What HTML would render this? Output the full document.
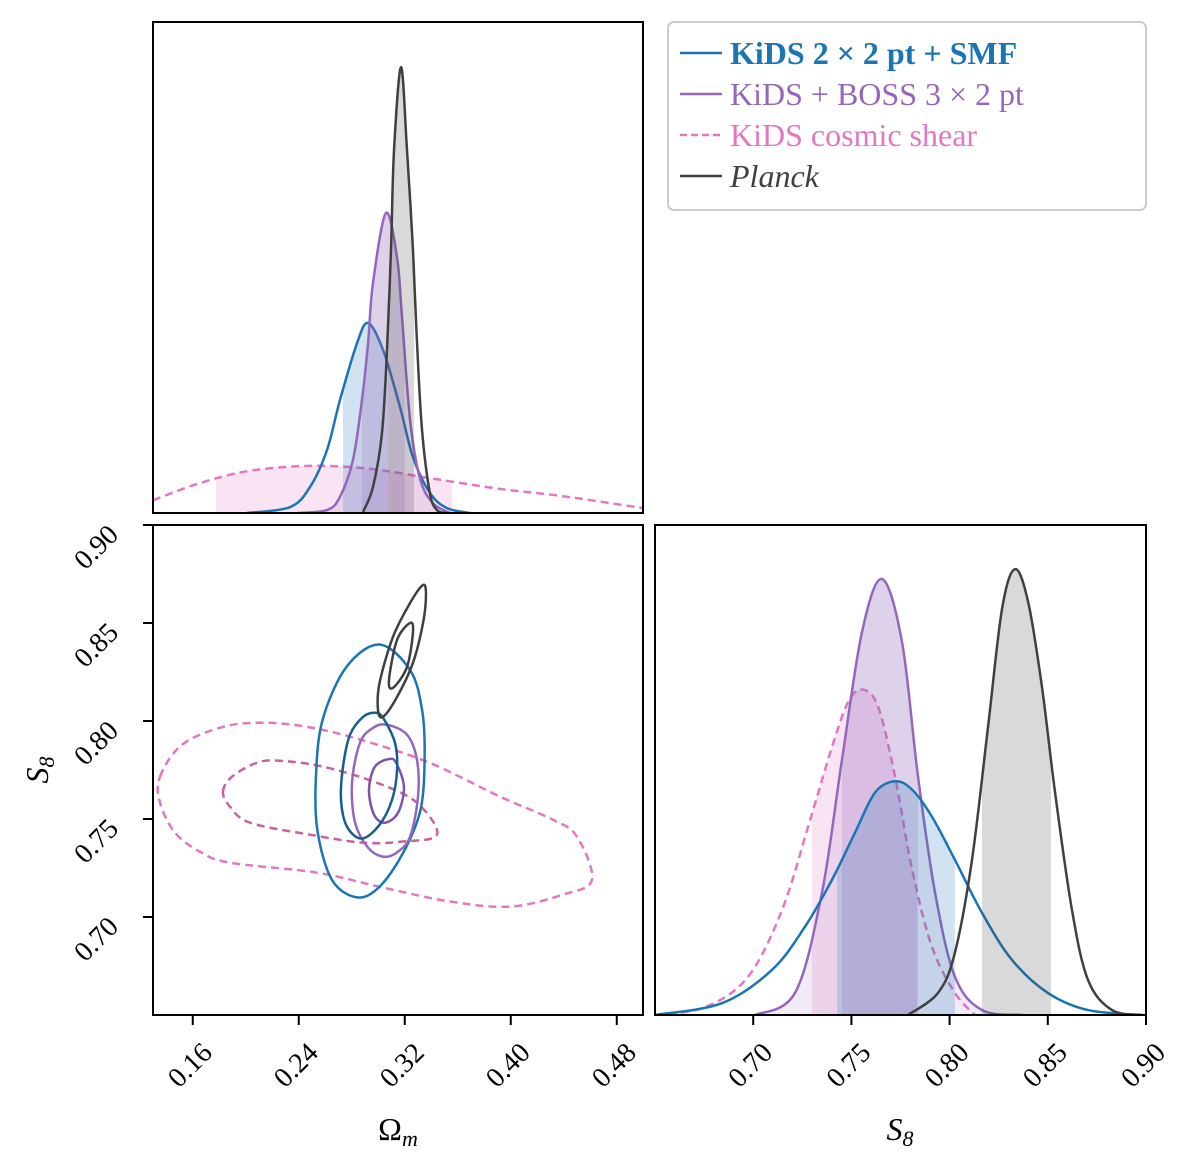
<!DOCTYPE html>
<html><head><meta charset="utf-8"><style>
html,body{margin:0;padding:0;background:#fff;}
svg text{font-family:"Liberation Serif",serif;}
</style></head><body>
<svg id="chart" xmlns="http://www.w3.org/2000/svg" width="1200" height="1154" viewBox="0 0 1200 1154">
<rect width="1200" height="1154" fill="#fff"/>
<g id="layer"></g>
<g>
<rect x="668" y="22" width="478" height="188" rx="6" fill="#fff" stroke="#cccccc" stroke-width="2"/>
<line x1="680" y1="53" x2="722" y2="53" stroke="#1a75b5" stroke-width="2.5"/>
<text x="730" y="64" font-size="32" font-weight="bold" fill="#1a75b5">KiDS 2 × 2 pt + SMF</text>
<line x1="680" y1="94" x2="722" y2="94" stroke="#9467bd" stroke-width="2.5"/>
<text x="730" y="105" font-size="32" fill="#9467bd">KiDS + BOSS 3 × 2 pt</text>
<line x1="680" y1="135" x2="722" y2="135" stroke="#e377c2" stroke-width="2.5" stroke-dasharray="7,4"/>
<text x="730" y="146" font-size="32" fill="#e377c2">KiDS cosmic shear</text>
<line x1="680" y1="176" x2="722" y2="176" stroke="#404040" stroke-width="2.5"/>
<text x="730" y="187" font-size="32" font-style="italic" fill="#404040">Planck</text>
</g>
</svg>
<script>
// ---- data ----
const omTicks = [0.16, 0.24, 0.32, 0.40, 0.48];
const s8TicksLeft = [0.70, 0.75, 0.80, 0.85, 0.90];
const s8TicksBottom = [0.70, 0.75, 0.80, 0.85, 0.90];
const omTickLabels = ["0.16","0.24","0.32","0.40","0.48"];
const s8TickLabels = ["0.70","0.75","0.80","0.85","0.90"];

// 1D Omega_m marginals
const omPlanckX = [0.2885,0.296,0.3028,0.3066,0.3096,0.3119,0.3172,0.3217,0.3262,0.3292,0.333,0.339,0.3443,0.3504];
const omPlanckY = [0.002,0.053,0.163,0.332,0.536,0.739,0.908,0.739,0.536,0.35,0.17,0.04,0.006,0];
const omBlueX = [0.2009,0.2334,0.2485,0.2613,0.2711,0.284,0.2923,0.3036,0.3164,0.3262,0.339,0.3519,0.3692];
const omBlueY = [0,0.012,0.053,0.128,0.230,0.346,0.387,0.332,0.216,0.114,0.041,0.010,0];
const omPurpleX = [0.2387,0.2613,0.2711,0.2809,0.2877,0.2923,0.296,0.3058,0.3142,0.3179,0.324,0.3315,0.3413,0.3542];
const omPurpleY = [0,0.006,0.033,0.108,0.230,0.346,0.468,0.611,0.52,0.40,0.19,0.07,0.020,0];
const omPinkX = [0.13,0.1655,0.2032,0.2485,0.2938,0.339,0.3919,0.4372,0.4998];
const omPinkY = [0.026,0.061,0.086,0.096,0.090,0.071,0.049,0.035,0.010];
const omBands = {blue:[0.2734,0.3073], purple:[0.2877,0.320], planck:[0.3074,0.327], pink:[0.1775,0.3557]};

// 1D S8 marginals
const s8PlanckX = [0.7788,0.7941,0.8027,0.8114,0.8196,0.8267,0.8333,0.840,0.847,0.8537,0.8623,0.8705,0.8827,0.898];
const s8PlanckY = [0,0.045,0.127,0.316,0.588,0.827,0.908,0.841,0.669,0.453,0.214,0.071,0.01,0];
const s8PurpleX = [0.7009,0.7213,0.735,0.7452,0.7554,0.7656,0.7758,0.7839,0.7926,0.8027,0.8165,0.8369];
const s8PurpleY = [0,0.045,0.249,0.520,0.780,0.888,0.759,0.486,0.249,0.078,0.01,0];
const s8PinkX = [0.65,0.6755,0.6974,0.7147,0.728,0.7402,0.7483,0.7554,0.7635,0.7722,0.7809,0.791,0.8027,0.8129];
const s8PinkY = [0,0.016,0.078,0.214,0.384,0.547,0.637,0.663,0.629,0.486,0.296,0.139,0.045,0];
const s8BlueX = [0.65,0.6841,0.7096,0.7264,0.7402,0.7518,0.762,0.7722,0.7809,0.791,0.8027,0.8165,0.8318,0.850,0.8705,0.898];
const s8BlueY = [0,0.024,0.092,0.180,0.276,0.371,0.453,0.476,0.459,0.404,0.316,0.208,0.112,0.045,0.01,0];
const s8Bands = {blue:[0.7427,0.8027], purple:[0.7452,0.7839], planck:[0.8165,0.8516], pink:[0.7299,0.7834]};

// 2D contours (Omega_m, S8)
const blueOuterOm = [0.301,0.324,0.333,0.335,0.332,0.319,0.301,0.284,0.265,0.254,0.253,0.258,0.276];
const blueOuterS8 = [0.839,0.826,0.806,0.782,0.755,0.733,0.7155,0.710,0.719,0.7445,0.772,0.8006,0.8276];
const blueInnerOm = [0.2975,0.3036,0.3126,0.3142,0.3104,0.301,0.2877,0.2764,0.2719,0.2734,0.2787,0.2885];
const blueInnerS8 = [0.8042,0.8016,0.7889,0.7751,0.7598,0.7471,0.740,0.7461,0.7598,0.7767,0.793,0.8021];
const purpleOuterOm = [0.3066,0.3217,0.3292,0.330,0.324,0.3142,0.3036,0.2923,0.2825,0.2802,0.2862,0.296];
const purpleOuterS8 = [0.7981,0.793,0.7802,0.7614,0.741,0.733,0.7308,0.7354,0.7481,0.7685,0.7889,0.7965];
const purpleInnerOm = [0.3089,0.3142,0.3194,0.3149,0.3051,0.2968,0.293,0.2975];
const purpleInnerS8 = [0.7807,0.7777,0.766,0.7532,0.7481,0.7522,0.7649,0.7767];
const planckOuterOm = [0.3338,0.336,0.3338,0.3262,0.3142,0.3036,0.2998,0.301,0.3111,0.324];
const planckOuterS8 = [0.8694,0.8643,0.850,0.8297,0.8123,0.8021,0.8057,0.8195,0.8429,0.8602];
const planckInnerOm = [0.324,0.3262,0.3217,0.3111,0.3081,0.3142];
const planckInnerS8 = [0.850,0.8455,0.8276,0.8169,0.821,0.8414];
const pinkOuterOm = [0.1353,0.1519,0.1828,0.2108,0.241,0.2787,0.3368,0.3919,0.4319,0.450,0.4613,0.4394,0.3994,0.3542,0.3036,0.2538,0.1881,0.1655,0.1466,0.1353];
const pinkOuterS8 = [0.7716,0.7879,0.797,0.7991,0.7976,0.792,0.7792,0.7614,0.7496,0.741,0.719,0.7114,0.7053,0.7079,0.715,0.7226,0.7277,0.7333,0.743,0.7583];
const pinkInnerOm = [0.1828,0.1896,0.2085,0.2258,0.2583,0.299,0.3292,0.3443,0.3164,0.2885,0.2485,0.2032,0.1881];
const pinkInnerS8 = [0.7639,0.7716,0.7787,0.7797,0.7767,0.7685,0.7583,0.742,0.7384,0.7379,0.742,0.7481,0.7563];

// ---- layout ----
const P1 = {x0:153,x1:643,y0:22,y1:513};
const P2 = {x0:153,x1:643,y0:525,y1:1015};
const P3 = {x0:655,x1:1146,y0:525,y1:1015};
const omMin=0.13, omMax=0.4998, s8Min=0.65, s8Max=0.90;
const xOm = v => P2.x0 + (v-omMin)/(omMax-omMin)*(P2.x1-P2.x0);
const yS8 = v => P2.y1 - (v-s8Min)/(s8Max-s8Min)*(P2.y1-P2.y0);
const xS8 = v => P3.x0 + (v-s8Min)/(s8Max-s8Min)*(P3.x1-P3.x0);
const yD1 = v => P1.y1 - v*491;
const yD3 = v => P3.y1 - v*491;

const NS="http://www.w3.org/2000/svg";
const layer=document.getElementById('layer');
function mk(tag, attrs, parent){const e=document.createElementNS(NS,tag);for(const k in attrs)e.setAttribute(k,attrs[k]);(parent||layer).appendChild(e);return e;}

function spline(pts, closed){
  const n=pts.length; let d='M'+pts[0][0].toFixed(2)+','+pts[0][1].toFixed(2);
  const get=i=>closed?pts[(i+n)%n]:pts[Math.max(0,Math.min(n-1,i))];
  const m=closed?n:n-1;
  for(let i=0;i<m;i++){
    const p0=get(i-1),p1=get(i),p2=get(i+1),p3=get(i+2);
    const c1=[p1[0]+(p2[0]-p0[0])/6,p1[1]+(p2[1]-p0[1])/6];
    const c2=[p2[0]-(p3[0]-p1[0])/6,p2[1]-(p3[1]-p1[1])/6];
    d+='C'+c1[0].toFixed(2)+','+c1[1].toFixed(2)+' '+c2[0].toFixed(2)+','+c2[1].toFixed(2)+' '+p2[0].toFixed(2)+','+p2[1].toFixed(2);
  }
  return d+(closed?'Z':'');
}

const defs=mk('defs',{});
function clipRect(id,P){const c=mk('clipPath',{id:id},defs);mk('rect',{x:P.x0,y:P.y0,width:P.x1-P.x0,height:P.y1-P.y0},c);}
clipRect('c1',P1);clipRect('c2',P2);clipRect('c3',P3);

const COL={blue:'#1a75b5',purple:'#9467bd',pink:'#e377c2',planck:'#404040'};
const INNER={blue:'#175e8e',purple:'#7d55a6',pink:'#c9619f',planck:'#404040'};

function marginal(name, xs, ys, xf, yf, band, base, clipId, fillAll, dashed){
  const pts=xs.map((x,i)=>[xf(x),yf(ys[i])]);
  const d=spline(pts,false);
  const area=d+'L'+pts[pts.length-1][0]+','+base+'L'+pts[0][0]+','+base+'Z';
  const cid=clipId+'-'+name;
  const cp=mk('clipPath',{id:cid},defs); mk('path',{d:area},cp);
  const g=mk('g',{'clip-path':'url(#'+clipId+')'});
  
  
  if(fillAll){mk('path',{d:area,fill:COL[name],'fill-opacity':0.13},g);}
  const b=mk('rect',{x:xf(band[0]),y:0,width:xf(band[1])-xf(band[0]),height:base,fill:COL[name],'fill-opacity':0.2,'clip-path':'url(#'+cid+')'},g);
  
  
  const l=mk('path',{d:d,fill:'none',stroke:COL[name],'stroke-width':2.5,'stroke-dasharray':dashed?'8,5':'none'},g);
  
  
}

marginal('pink',omPinkX,omPinkY,xOm,yD1,omBands.pink,P1.y1,'c1',false,true);
marginal('blue',omBlueX,omBlueY,xOm,yD1,omBands.blue,P1.y1,'c1',false,false);
marginal('purple',omPurpleX,omPurpleY,xOm,yD1,omBands.purple,P1.y1,'c1',true,false);
marginal('planck',omPlanckX,omPlanckY,xOm,yD1,omBands.planck,P1.y1,'c1',false,false);
marginal('pink',s8PinkX,s8PinkY,xS8,yD3,s8Bands.pink,P3.y1,'c3',false,true);
marginal('purple',s8PurpleX,s8PurpleY,xS8,yD3,s8Bands.purple,P3.y1,'c3',true,false);
marginal('blue',s8BlueX,s8BlueY,xS8,yD3,s8Bands.blue,P3.y1,'c3',false,false);
marginal('planck',s8PlanckX,s8PlanckY,xS8,yD3,s8Bands.planck,P3.y1,'c3',false,false);

function contour(name, oms, s8s, color, dashed){
  const pts=oms.map((o,i)=>[xOm(o),yS8(s8s[i])]);
  const p=mk('path',{d:spline(pts,true),fill:'none',stroke:color,'stroke-width':2.5,'stroke-dasharray':dashed?'8,5':'none','clip-path':'url(#c2)','stroke-linejoin':'round'});
  
  
}
contour('pink-contour-outer',pinkOuterOm,pinkOuterS8,COL.pink,true);
contour('pink-contour-inner',pinkInnerOm,pinkInnerS8,INNER.pink,true);
contour('blue-contour-outer',blueOuterOm,blueOuterS8,COL.blue,false);
contour('purple-contour-outer',purpleOuterOm,purpleOuterS8,COL.purple,false);
contour('purple-contour-inner',purpleInnerOm,purpleInnerS8,INNER.purple,false);
contour('blue-contour-inner',blueInnerOm,blueInnerS8,INNER.blue,false);
contour('planck-contour-outer',planckOuterOm,planckOuterS8,COL.planck,false);
contour('planck-contour-inner',planckInnerOm,planckInnerS8,COL.planck,false);

[[P1,'top-panel-frame'],[P2,'contour-panel-frame'],[P3,'s8-panel-frame']].forEach(([P,n])=>{
  const r=mk('rect',{x:P.x0,y:P.y0,width:P.x1-P.x0,height:P.y1-P.y0,fill:'none',stroke:'#000','stroke-width':2});
  
  
});

omTicks.forEach((v,i)=>{
  const x=xOm(v);
  mk('line',{x1:x,y1:P2.y1,x2:x,y2:P2.y1+10,stroke:'#000','stroke-width':2});
  const t=mk('text',{x:0,y:0,'font-size':28,'text-anchor':'middle','dominant-baseline':'middle',transform:'translate('+(x-1)+','+(P2.y1+52)+') rotate(-45)'});
  t.textContent=omTickLabels[i];
  
  
});
s8TicksLeft.forEach((v,i)=>{
  const y=yS8(v);
  mk('line',{x1:P2.x0-10,y1:y,x2:P2.x0,y2:y,stroke:'#000','stroke-width':2});
  const t=mk('text',{x:0,y:0,'font-size':28,'text-anchor':'middle','dominant-baseline':'middle',transform:'translate('+(P2.x0-55)+','+(y+24)+') rotate(-45)'});
  t.textContent=s8TickLabels[i];
  
  
});
s8TicksBottom.forEach((v,i)=>{
  const x=xS8(v);
  mk('line',{x1:x,y1:P3.y1,x2:x,y2:P3.y1+10,stroke:'#000','stroke-width':2});
  const t=mk('text',{x:0,y:0,'font-size':28,'text-anchor':'middle','dominant-baseline':'middle',transform:'translate('+(x-1)+','+(P3.y1+52)+') rotate(-45)'});
  t.textContent=s8TickLabels[i];
  
  
});

function title(txt,sub,x,y,rot,name){
  const t=mk('text',{x:0,y:0,'font-size':32,'text-anchor':'middle',transform:'translate('+x+','+y+') rotate('+rot+')'});
  
  
  const a=mk('tspan',{},t); a.textContent=txt;
  const b=mk('tspan',{'font-size':22,'font-style':'italic',dy:6},t); b.textContent=sub;
}
title('Ω','m',398,1140,0,'x-axis-title-omega-m');
title('S','8',900,1140,0,'x-axis-title-s8');
title('S','8',48,770,-90,'y-axis-title-s8');
document.querySelectorAll('text tspan:first-child').forEach(e=>{if(e.textContent==='S')e.setAttribute('font-style','italic');});
</script>
</body></html>
